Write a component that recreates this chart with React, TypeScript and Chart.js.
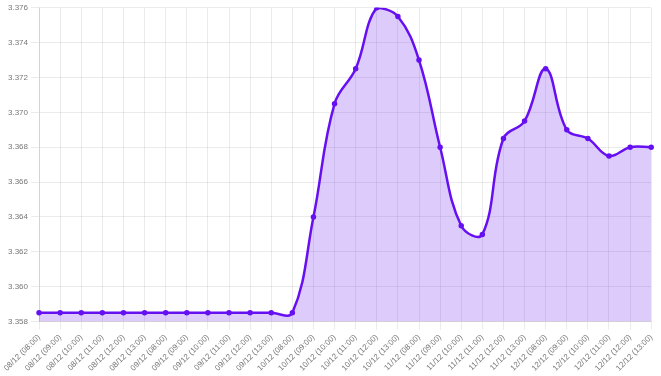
import React, { useEffect, useRef } from "react";
import { Chart, registerables } from "chart.js";

Chart.register(...registerables);

const labels: string[] = [
  "08/12 (08:00)", "08/12 (09:00)", "08/12 (10:00)", "08/12 (11:00)", "08/12 (12:00)", "08/12 (13:00)",
  "09/12 (08:00)", "09/12 (09:00)", "09/12 (10:00)", "09/12 (11:00)", "09/12 (12:00)", "09/12 (13:00)",
  "10/12 (08:00)", "10/12 (09:00)", "10/12 (10:00)", "10/12 (11:00)", "10/12 (12:00)", "10/12 (13:00)",
  "11/12 (08:00)", "11/12 (09:00)", "11/12 (10:00)", "11/12 (11:00)", "11/12 (12:00)", "11/12 (13:00)",
  "12/12 (08:00)", "12/12 (09:00)", "12/12 (10:00)", "12/12 (11:00)", "12/12 (12:00)", "12/12 (13:00)",
];

const values: number[] = [
  3.3585, 3.3585, 3.3585, 3.3585, 3.3585, 3.3585,
  3.3585, 3.3585, 3.3585, 3.3585, 3.3585, 3.3585,
  3.3585, 3.364, 3.3705, 3.3725, 3.376, 3.3755,
  3.373, 3.368, 3.3635, 3.363, 3.3685, 3.3695,
  3.3725, 3.369, 3.3685, 3.3675, 3.368, 3.368,
];

const yMin = 3.358;
const yMax = 3.376;
const yStep = 0.002;

export default function App() {
  const ref = useRef<HTMLCanvasElement | null>(null);
  useEffect(() => {
    document.body.style.margin = "0";
    if (!ref.current) return;
    const chart = new Chart(ref.current, {
      type: "line",
      data: {
        labels,
        datasets: [
          {
            data: values,
            borderColor: "#6610f2",
            backgroundColor: "rgba(102,16,242,0.22)",
            fill: true,
            borderWidth: 2.5,
            pointRadius: 1.5,
            pointBackgroundColor: "#6610f2",
            pointBorderColor: "#6610f2",
            tension: 0.4,
          },
        ],
      },
      options: {
        animation: false,
        responsive: false,
        plugins: { legend: { display: false }, tooltip: { enabled: false } },
        layout: { padding: { top: 1, right: 4, left: 5 } },
        scales: {
          x: {
            ticks: { font: { size: 8 }, color: "#777", autoSkip: false, maxRotation: 45, minRotation: 45 },
            grid: { color: "rgba(0,0,0,0.08)" },
          },
          y: {
            min: yMin,
            max: yMax,
            ticks: { stepSize: yStep, font: { size: 8 }, color: "#777", callback: (v: any) => Number(v).toFixed(3) },
            grid: { color: "rgba(0,0,0,0.08)" },
          },
        },
      },
    });
    return () => chart.destroy();
  }, []);
  return <canvas ref={ref} width={661} height={376} style={{ display: "block" }} />;
}
